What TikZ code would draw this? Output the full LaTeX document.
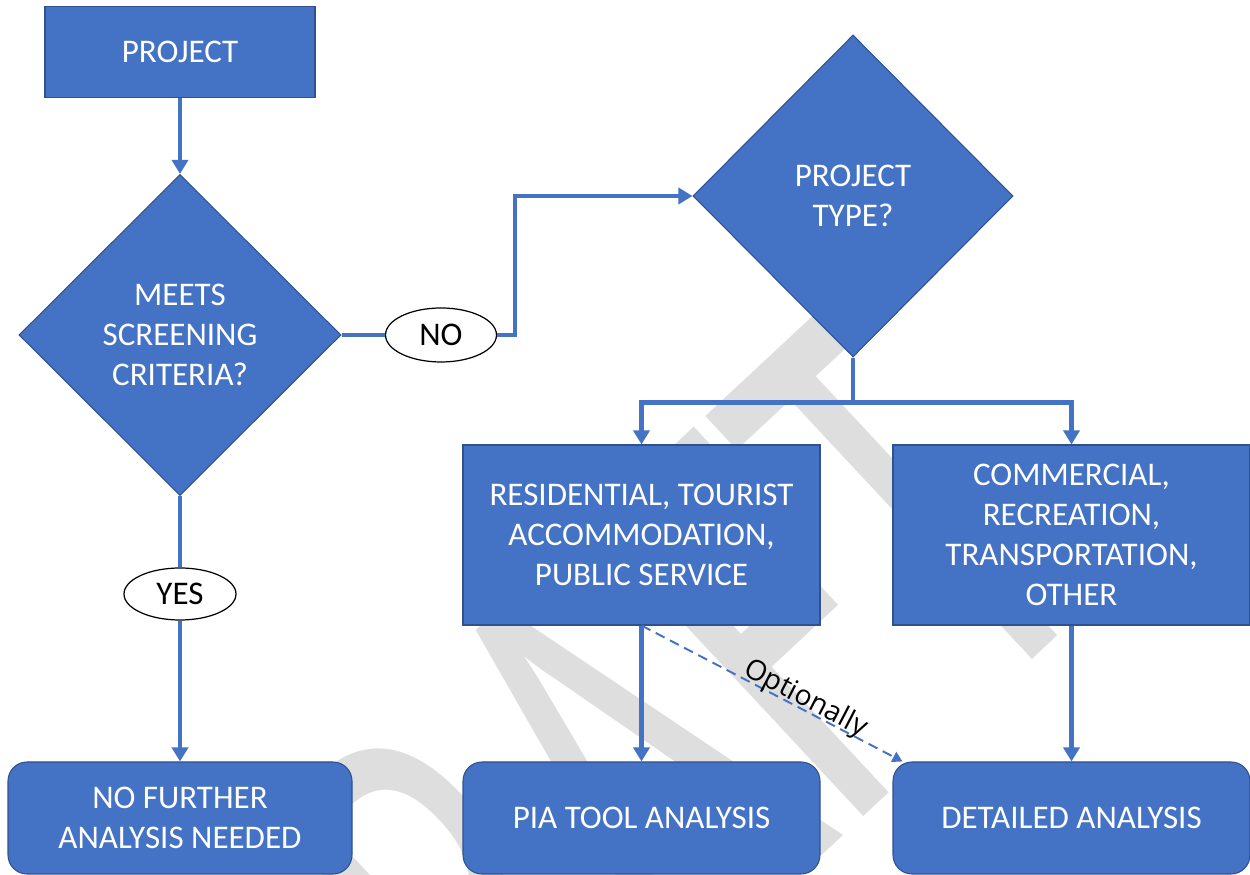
\documentclass[tikz,border=0pt]{standalone}
\usepackage{fontspec}
\setmainfont{Carlito}
\newfontfamily\fuenteopc{Open Sans}
\usepackage{xcolor}
\usetikzlibrary{shapes.geometric,arrows.meta}

\definecolor{azul}{HTML}{4472C4}
\definecolor{azulborde}{HTML}{2F528F}
\definecolor{gris}{HTML}{DEDEDE}

\tikzset{
  caja/.style={rectangle, fill=azul, draw=azulborde, line width=0.6pt, text=white,
    align=center, inner sep=0pt, font=\fontsize{18.8}{22.8}\selectfont},
  cajar/.style={caja, rounded corners=0.38cm},
  rombo/.style={diamond, fill=azul, draw=azulborde, line width=0.6pt, text=white,
    align=center, inner sep=0pt, font=\fontsize{18.8}{22.8}\selectfont},
  ovalo/.style={ellipse, fill=white, draw=black, line width=0.7pt, inner sep=0pt,
    font=\fontsize{18.8}{22.8}\selectfont},
  agua/.style={text=gris, inner sep=0pt, rotate=43, yscale=1.6,
    font=\fontsize{222}{222}\selectfont},
  linea/.style={draw=azul, line width=2.7pt},
  flecha/.style={linea, -{Triangle[width=0.32cm,length=0.28cm]}},
  flechad/.style={draw=azul, line width=1.1pt, dash pattern=on 0.2cm off 0.12cm,
    -{Triangle[width=0.22cm,length=0.2cm]}},
}

\begin{document}
\begin{tikzpicture}
        % Paso 1: Fija el marco de la figura y recorta lo que sobra
        \useasboundingbox (0,0) rectangle (25,17.5);
        \clip (0,0) rectangle (25,17.5);

        % Paso 2: Dibuja la marca de agua gris al fondo
        \node[agua] (borrador) at (11.9,1.64) {DRAFT};

        % Paso 3: Define la caja inicial y el primer rombo
        \node[caja, minimum width=5.4cm, minimum height=1.82cm] (proyecto) at (3.6,16.46) {PROJECT};
        \node[rombo, minimum width=6.44cm, minimum height=6.42cm] (criterio) at (3.6,10.8) {MEETS\\SCREENING\\CRITERIA?};

        % Paso 4: Define las respuestas NO y YES
        \node[ovalo, minimum width=2.22cm, minimum height=1.08cm] (no) at (8.82,10.8) {NO};
        \node[ovalo, minimum width=2.24cm, minimum height=1.04cm] (si) at (3.6,5.62) {YES};

        % Paso 5: Define el segundo rombo y las dos cajas de tipos
        \node[rombo, minimum width=6.4cm, minimum height=6.44cm] (tipo) at (17.06,13.58) {PROJECT\\TYPE?};
        \node[caja, minimum width=7.14cm, minimum height=3.6cm] (resid) at (12.83,6.8) {RESIDENTIAL, TOURIST\\ACCOMMODATION,\\PUBLIC SERVICE};
        \node[caja, minimum width=7.14cm, minimum height=3.6cm] (comer) at (21.43,6.8) {COMMERCIAL,\\RECREATION,\\TRANSPORTATION,\\OTHER};

        % Paso 6: Define las tres cajas finales redondeadas
        \node[cajar, minimum width=6.88cm, minimum height=2.24cm] (nomas) at (3.6,1.14) {NO FURTHER\\ANALYSIS NEEDED};
        \node[cajar, minimum width=7.14cm, minimum height=2.24cm] (pia) at (12.83,1.14) {PIA TOOL ANALYSIS};
        \node[cajar, minimum width=7.14cm, minimum height=2.24cm] (detalle) at (21.43,1.14) {DETAILED ANALYSIS};

        % Paso 7: Une la columna de la izquierda
        \draw[flecha] (proyecto) -- (criterio);
        \draw[linea] (criterio) -- (no);
        \draw[flecha] (no.east) -- ++(0.36,0) |- (tipo.west);
        \draw[linea] (criterio) -- (si);
        \draw[flecha] (si) -- (nomas);

        % Paso 8: Reparte el segundo rombo hacia las dos cajas
        \draw[flecha] (tipo.south) -- ++(0,-0.9) -| (resid.north);
        \draw[flecha] (tipo.south) -- ++(0,-0.9) -| (comer.north);

        % Paso 9: Baja de cada caja a su analisis
        \draw[flecha] (resid) -- (pia);
        \draw[flecha] (comer) -- (detalle);
        \draw[flechad] (resid.south) -- ([xshift=0.2cm]detalle.north west)
            node[pos=0.61, sloped, anchor=base, yshift=0.06cm, inner sep=0pt,
                 font=\fuenteopc\fontsize{16}{16}\selectfont] (opcional) {Optionally};
\end{tikzpicture}
\end{document}
